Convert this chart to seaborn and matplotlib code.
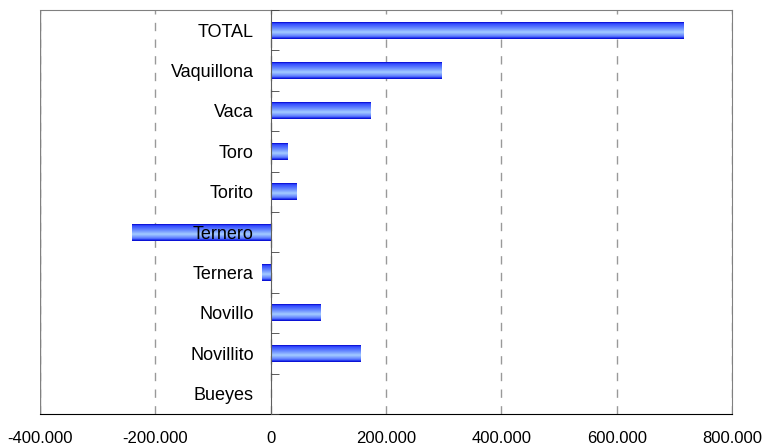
import matplotlib
matplotlib.use('Agg')
import matplotlib.pyplot as plt
import matplotlib.colors as mcolors
from matplotlib.ticker import FuncFormatter
import seaborn as sns
import pandas as pd
import numpy as np

categorias = ['TOTAL', 'Vaquillona', 'Vaca', 'Toro', 'Torito',
              'Ternero', 'Ternera', 'Novillo', 'Novillito', 'Bueyes']
valores = [715000, 296000, 173000, 28500, 44000,
           -240000, -15500, 86000, 155000, 0]

df = pd.DataFrame({'cat': categorias, 'val': valores})

sns.set_style('white')
plt.rcParams['font.family'] = ['Liberation Sans', 'DejaVu Sans']

fig = plt.figure(figsize=(7.63, 4.48), dpi=100)
ax = fig.add_axes([0.0524, 0.0759, 0.907, 0.9018])

sns.barplot(data=df, x='val', y='cat', order=categorias, orient='h',
            width=0.42, color='#3355ff', ax=ax, zorder=3)

# gradient fill over each bar (dark edges, light band a bit below centre)
cmap = mcolors.LinearSegmentedColormap.from_list(
    'barra', [(0.0, '#0000c8'), (0.08, '#3048ff'), (0.35, '#6688ff'),
              (0.6, '#a4ccff'), (0.85, '#5a78ff'), (0.93, '#2035ee'),
              (1.0, '#0000c8')])
grad = np.linspace(0, 1, 64).reshape(-1, 1)
for p in ax.patches:
    x0, y0 = p.get_x(), p.get_y()
    w, h = p.get_width(), p.get_height()
    if w == 0:
        continue
    p.set_facecolor('none')
    p.set_edgecolor('none')
    ax.imshow(grad, cmap=cmap, aspect='auto', interpolation='bilinear',
              extent=[x0, x0 + w, y0 + h, y0], zorder=3)

ax.set_xlim(-400000, 800000)
ax.set_ylim(len(categorias) - 0.5, -0.5)
ax.set_xticks([-400000, -200000, 0, 200000, 400000, 600000, 800000])
ax.xaxis.set_major_formatter(FuncFormatter(lambda v, _: f'{v:,.0f}'.replace(',', '.')))
ax.set_xlabel('')
ax.set_ylabel('')

# y axis at zero
ax.spines['left'].set_position(('data', 0))
ax.spines['left'].set_color('#606060')
ax.spines['left'].set_zorder(4)
ax.axvline(-400000, color='#808080', lw=1, zorder=1)
for s in ['top', 'right']:
    ax.spines[s].set_color('#808080')
ax.spines['bottom'].set_color('black')

ax.set_yticks(np.arange(len(categorias) + 1) - 0.5, minor=True)
ax.tick_params(axis='y', which='major', length=0, pad=12, labelsize=13,
               labelcolor='black')
ax.tick_params(axis='y', which='minor', direction='in', length=6,
               color='#404040', left=True)
ax.tick_params(axis='x', which='major', direction='in', length=4,
               pad=12, labelsize=12, labelcolor='black')

ax.xaxis.grid(True, linestyle=(0, (6, 6)), color='#999999', lw=1)
ax.set_axisbelow(True)
ax.yaxis.set_zorder(5)

fig.savefig('out.png', dpi=100)
